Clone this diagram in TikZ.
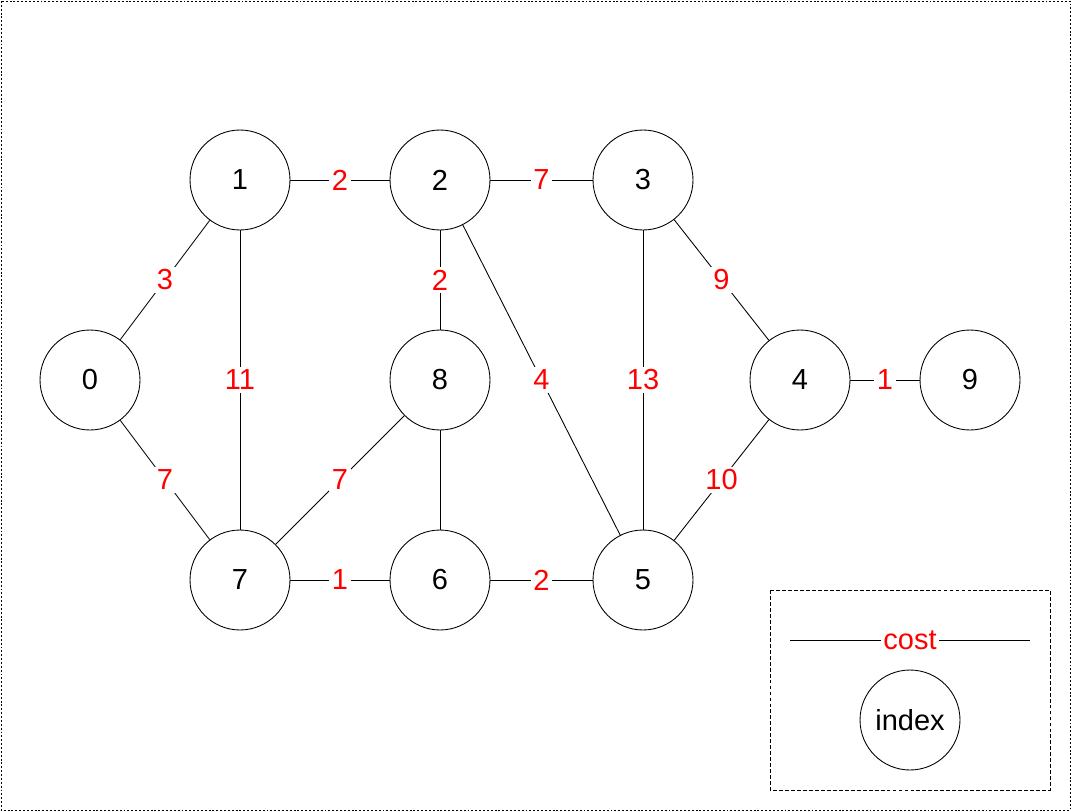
\documentclass[tikz,border=0pt]{standalone}
\usepackage{fontspec}
\setmainfont{Liberation Sans}
\usetikzlibrary{calc}
\definecolor{CostClr}{rgb}{1,0,0}

\begin{document}
\begin{tikzpicture}[x=0.02cm,y=-0.02cm,
  vertex/.style={draw,circle,line width=0.5pt,minimum size=2cm,inner sep=0pt,font=\fontsize{16.5}{19}\selectfont},
  cost/.style={fill=white,text=CostClr,inner sep=1.5pt,font=\fontsize{16.5}{19}\selectfont},
  edge/.style={line width=0.5pt,color=black}]
\useasboundingbox (0,0) rectangle (1071,811);
\draw[line width=0.5pt,dash pattern=on 1.1pt off 1.1pt] (1,1) rectangle (1070,810);

\node[vertex] (V0) at (90,380) {0};
\node[vertex] (V1) at (240,180) {1};
\node[vertex] (V2) at (440,180) {2};
\node[vertex] (V3) at (643,180) {3};
\node[vertex] (V4) at (800,380) {4};
\node[vertex] (V9) at (970,380) {9};
\node[vertex] (V8) at (440,380) {8};
\node[vertex] (V7) at (240,580) {7};
\node[vertex] (V6) at (440,580) {6};
\node[vertex] (V5) at (643,580) {5};

\foreach \a/\b/\c in {V0/V1/3,V0/V7/7,V1/V2/2,V1/V7/11,V2/V3/7,V2/V8/2,V2/V5/4,
  V3/V4/9,V3/V5/13,V4/V9/1,V4/V5/10,V8/V7/7,V7/V6/1,V6/V5/2}
  \draw[edge] (\a) -- node[cost]{\c} (\b);
\draw[edge] (V8) -- (V6);

% legend
\draw[line width=0.5pt,dash pattern=on 2.2pt off 1.2pt] (770,590) rectangle (1050,790);
\coordinate (LA) at (790,640);
\coordinate (LB) at (1030,640);
\draw[edge] (LA) -- node[cost]{cost} (LB);
\node[vertex] (IDX) at (910,720) {index};

\end{tikzpicture}
\end{document}
